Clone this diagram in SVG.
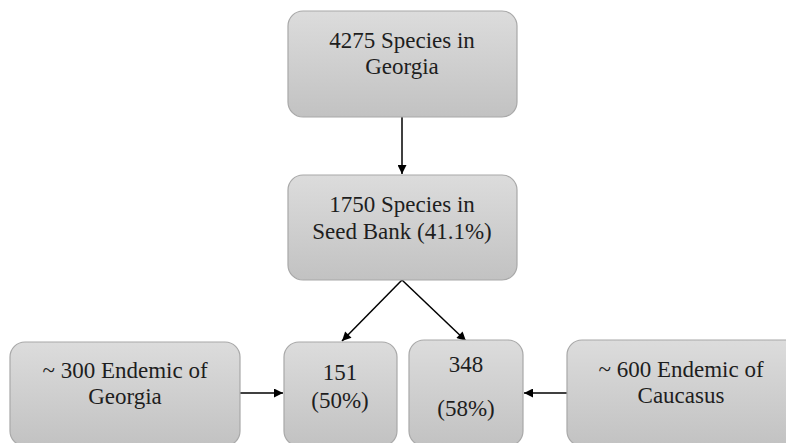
<svg xmlns="http://www.w3.org/2000/svg" width="786" height="443" viewBox="0 0 786 443">
<defs>
<linearGradient id="g" x1="0" y1="0" x2="0" y2="1">
<stop offset="0" stop-color="#dcdcdc"/>
<stop offset="1" stop-color="#c2c2c2"/>
</linearGradient>
<marker id="ah" viewBox="0 0 10 10" refX="10" refY="5" markerWidth="10" markerHeight="9" markerUnits="userSpaceOnUse" orient="auto">
<path d="M0,0 L10,5 L0,10 z" fill="#000"/>
</marker>
</defs>
<style>
.box{fill:url(#g);stroke:#a8a8a8;stroke-width:1.2}
.t{font-size:23px;fill:#1e1e1e;text-anchor:middle}
.c{stroke:#000;stroke-width:1.5;fill:none;marker-end:url(#ah)}
</style>
<g id="connectors">
<line class="c" x1="402" y1="117" x2="402" y2="174"/>
<line class="c" x1="402" y1="280" x2="342" y2="341"/>
<line class="c" x1="402" y1="280" x2="466" y2="341"/>
<line class="c" x1="240" y1="393" x2="283" y2="393"/>
<line class="c" x1="567" y1="393" x2="524" y2="393"/>
</g>
<g font-family="'Liberation Serif', 'DejaVu Serif', serif">
<g id="n1">
<rect class="box" x="288" y="11" width="229" height="106" rx="15"/>
<text class="t" x="402" y="48">4275 Species in</text>
<text class="t" x="402" y="74">Georgia</text>
</g>
<g id="n2">
<rect class="box" x="288" y="175" width="229" height="105" rx="15"/>
<text class="t" x="402" y="212">1750 Species in</text>
<text class="t" x="402" y="239">Seed Bank (41.1%)</text>
</g>
<g id="n3">
<rect class="box" x="10" y="342" width="230" height="104" rx="15"/>
<text class="t" x="125" y="378">~ 300 Endemic of</text>
<text class="t" x="125" y="404">Georgia</text>
</g>
<g id="n4">
<rect class="box" x="284" y="342" width="113" height="104" rx="15"/>
<text class="t" x="340" y="380">151</text>
<text class="t" x="340" y="408">(50%)</text>
</g>
<g id="n5">
<rect class="box" x="409" y="340" width="114" height="106" rx="15"/>
<text class="t" x="466" y="372">348</text>
<text class="t" x="466" y="416">(58%)</text>
</g>
<g id="n6">
<rect class="box" x="567" y="340" width="240" height="106" rx="15"/>
<text class="t" x="681" y="377">~ 600 Endemic of</text>
<text class="t" x="681" y="403">Caucasus</text>
</g>
</g>
</svg>
